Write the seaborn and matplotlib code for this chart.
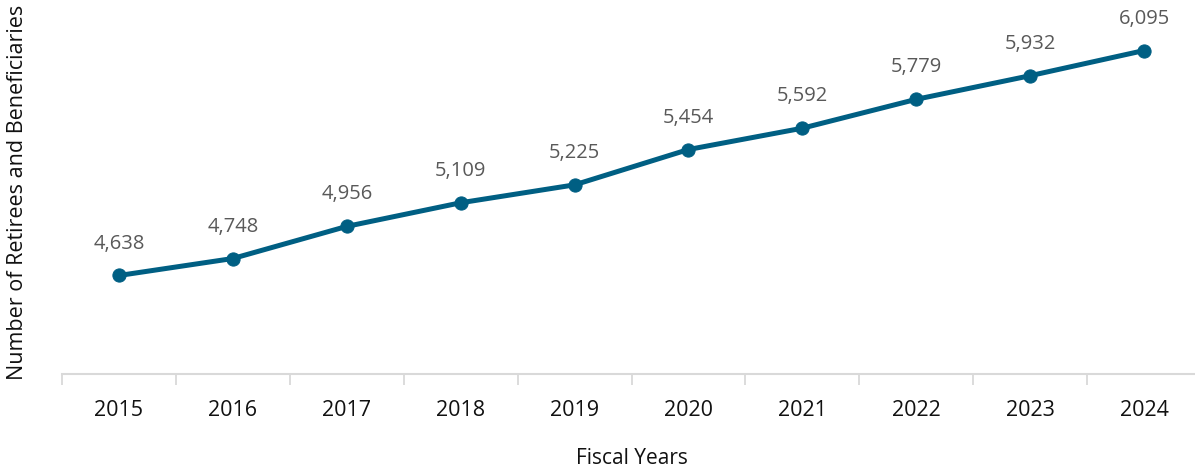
import numpy as np
import pandas as pd
import matplotlib
matplotlib.use("Agg")
import matplotlib.pyplot as plt
import seaborn as sns

years = ["2015", "2016", "2017", "2018", "2019", "2020", "2021", "2022", "2023", "2024"]
retirees = [4638, 4748, 4956, 5109, 5225, 5454, 5592, 5779, 5932, 6095]

sns.set_theme(style="white")
plt.rcParams["font.family"] = ["Open Sans", "DejaVu Sans"]

df = pd.DataFrame({"pos": np.arange(len(years)), "value": retirees})

line_color = "#005F83"
fig = plt.figure(figsize=(11.95, 4.72), dpi=100)
ax = fig.add_axes([62 / 1195, (472 - 374) / 472, 1139 / 1195, 386 / 472])

sns.lineplot(data=df, x="pos", y="value", ax=ax, color=line_color,
             linewidth=3.6, marker="o", markersize=9.5,
             markeredgecolor=line_color, markerfacecolor=line_color)

for x, v in zip(df["pos"], df["value"]):
    ax.annotate(f"{v:,}", (x, v), xytext=(0, 23), textcoords="offset points",
                ha="center", va="center", fontsize=14.5, color="#595959")

ax.set_xlim(-0.5, len(years) - 0.5)
ax.set_ylim(4000, 6500)
ax.set_xticks(np.arange(len(years)))
ax.set_xticklabels(years, fontsize=15.5, color="#111111")
ax.set_xticks(np.arange(len(years) + 1) - 0.5, minor=True)
ax.tick_params(axis="x", which="major", length=0, pad=19)
ax.tick_params(axis="x", which="minor", length=8, width=1.3, color="#d9d9d9",
               direction="out", bottom=True)
ax.set_yticks([])

for side in ["top", "right", "left"]:
    ax.spines[side].set_visible(False)
ax.spines["bottom"].set_color("#d9d9d9")
ax.spines["bottom"].set_linewidth(1.5)

ax.set_xlabel("Fiscal Years", fontsize=15, color="#111111", labelpad=19)
ax.set_ylabel("")
fig.text(18 / 1195, 1 - 192 / 472, "Number of Retirees and Beneficiaries",
         rotation=90, ha="center", va="center", fontsize=15.5, color="#111111")

fig.savefig("out.png", dpi=100)
